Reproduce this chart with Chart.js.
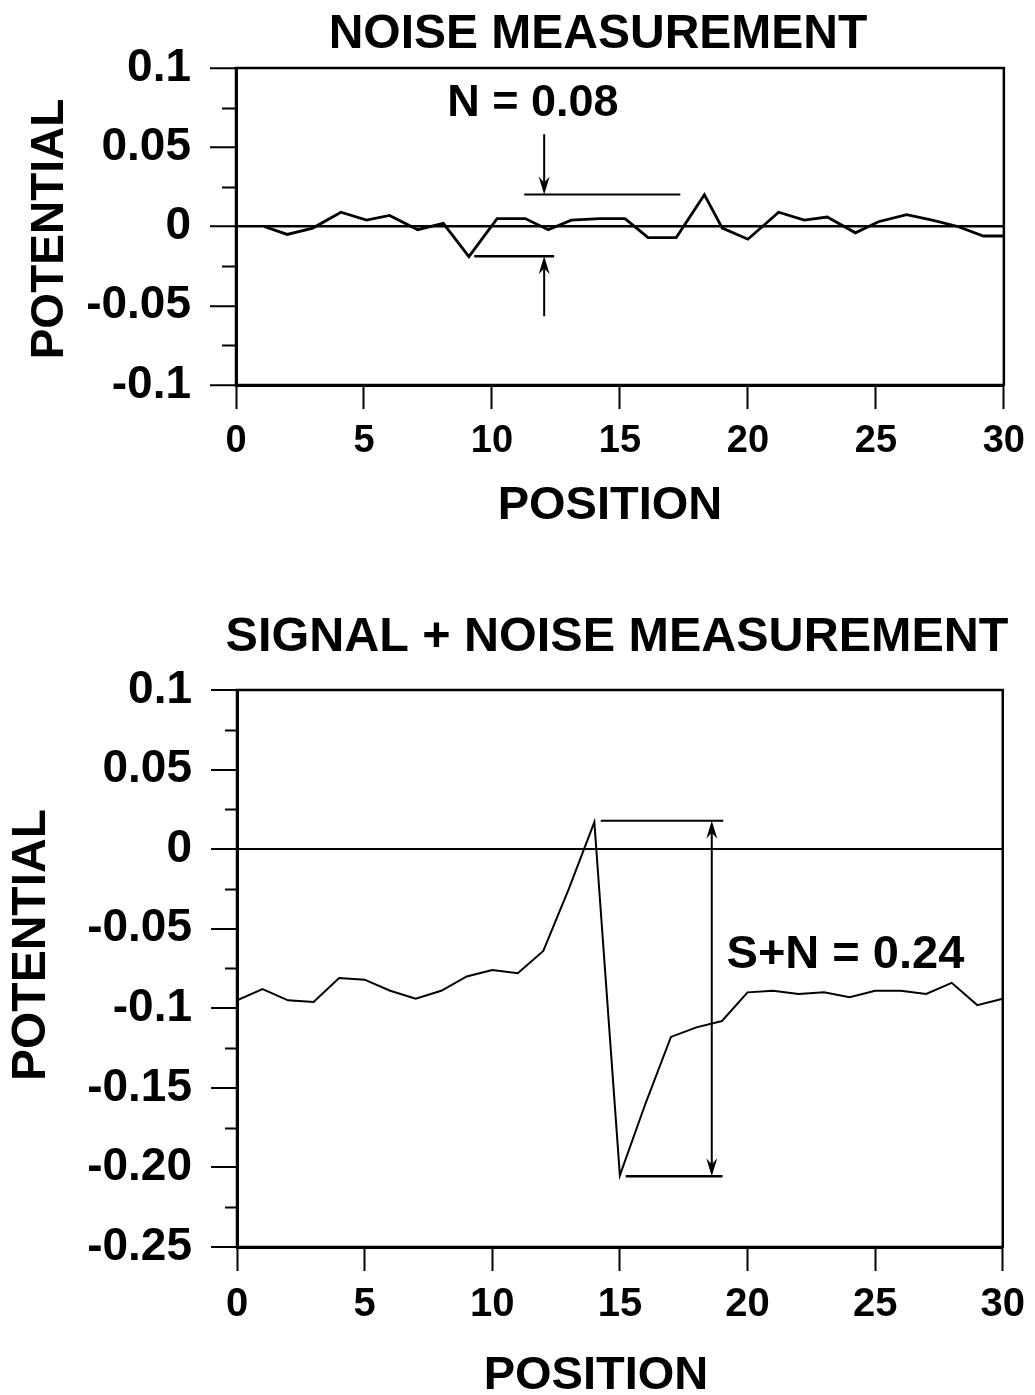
<!DOCTYPE html>
<html>
<head>
<meta charset="utf-8">
<script src="https://cdn.jsdelivr.net/npm/chart.js@4.4.1/dist/chart.umd.min.js"></script>
<style>
  html, body { margin: 0; padding: 0; background: #fff; }
  #wrap { position: relative; width: 1035px; height: 1395px; }
  canvas { position: absolute; left: 0; }
</style>
</head>
<body>
<div id="wrap">
  <canvas id="noiseChart" width="1035" height="560" style="top:0"></canvas>
  <canvas id="signalChart" width="1035" height="835" style="top:560px"></canvas>
</div>
<script>
// top panel: noise only
const noisePositions = [1.1, 2.0, 3.0, 4.1, 5.1, 6.0, 7.1, 8.1, 9.1, 10.2, 11.3, 12.2, 13.1, 14.2, 15.2,
  16.1, 17.2, 18.3, 19.0, 20.0, 21.2, 22.2, 23.1, 24.2, 25.1, 26.2, 27.2, 28.2, 29.2, 30.0];
const noiseValues = [0, -0.005, -0.001, 0.009, 0.004, 0.007, -0.002, 0.002, -0.019, 0.005, 0.005, -0.002, 0.004, 0.005, 0.005,
  -0.007, -0.007, 0.020, -0.001, -0.008, 0.009, 0.004, 0.006, -0.004, 0.003, 0.0075, 0.004, 0, -0.006, -0.006];

// bottom panel: signal + noise
const signalPositions = [0, 1, 2, 3, 4, 5, 6, 7, 8, 9, 10, 11, 12, 13, 14, 15,
  16, 17, 18, 19, 20, 21, 22, 23, 24, 25, 26, 27, 28, 29, 30];
const signalValues = [-0.095, -0.088, -0.095, -0.096, -0.081, -0.082, -0.089, -0.094, -0.089, -0.080, -0.076, -0.078, -0.064, -0.025, 0.017, -0.205,
  -0.160, -0.118, -0.112, -0.108, -0.090, -0.089, -0.091, -0.090, -0.093, -0.089, -0.089, -0.091, -0.084, -0.098, -0.094];

const xTickLabels = ["0", "5", "10", "15", "20", "25", "30"];
const noiseYTickLabels = ["-0.1", "-0.05", "0", "0.05", "0.1"];
const signalYTickLabels = ["-0.25", "-0.20", "-0.15", "-0.1", "-0.05", "0", "0.05", "0.1"];

// measurement marks, in data units
const noiseMarks = { arrowX: 12.04, top: 0.0202, bottom: -0.0187, arrowLen: 0.038,
  topLine: [11.26, 17.36], bottomLine: [9.31, 12.43], label: "N = 0.08", labelAt: [11.6, 0.070] };
const signalMarks = { arrowX: 18.6, top: 0.0179, bottom: -0.2055,
  topLine: [14.25, 19.05], bottomLine: [15.23, 19.02], label: "S+N = 0.24", labelAt: [19.18, -0.0745] };

const FONT = "'Liberation Sans', Arial, Helvetica, sans-serif";

function arrowHead(ctx, x, y, dir) {
  // dir 1 = pointing down, -1 = pointing up, tip at (x, y)
  ctx.beginPath();
  ctx.moveTo(x, y);
  ctx.lineTo(x - 5.5, y - 18 * dir);
  ctx.lineTo(x, y - 12 * dir);
  ctx.lineTo(x + 5.5, y - 18 * dir);
  ctx.closePath();
  ctx.fill();
}

function decorPlugin(opt) {
  return {
    id: "decor",
    afterDraw(chart) {
      const ctx = chart.ctx;
      const { left, top, right, bottom } = chart.chartArea;
      const xs = chart.scales.x, ys = chart.scales.y;
      ctx.save();
      ctx.strokeStyle = "#000";
      ctx.fillStyle = "#000";

      // frame
      ctx.lineWidth = opt.frameWidth;
      ctx.strokeRect(left, top, right - left, bottom - top);

      // minor y ticks
      ctx.lineWidth = 2;
      for (let v = ys.min + 0.025; v < ys.max; v += 0.05) {
        const py = Math.round(ys.getPixelForValue(v)) + 0.5;
        ctx.beginPath();
        ctx.moveTo(left - opt.minorTick, py);
        ctx.lineTo(left, py);
        ctx.stroke();
      }

      // measurement marks
      const m = opt.marks;
      const ax = xs.getPixelForValue(m.arrowX);
      const pTop = ys.getPixelForValue(m.top);
      const pBot = ys.getPixelForValue(m.bottom);
      ctx.lineWidth = 2;
      ctx.beginPath();
      ctx.moveTo(xs.getPixelForValue(m.topLine[0]), pTop);
      ctx.lineTo(xs.getPixelForValue(m.topLine[1]), pTop);
      ctx.stroke();
      ctx.lineWidth = 2.5;
      ctx.beginPath();
      ctx.moveTo(xs.getPixelForValue(m.bottomLine[0]), pBot);
      ctx.lineTo(xs.getPixelForValue(m.bottomLine[1]), pBot);
      ctx.stroke();
      ctx.lineWidth = 2;
      if (m.arrowLen) {
        const a1 = ys.getPixelForValue(m.top + m.arrowLen);
        const a2 = ys.getPixelForValue(m.bottom - m.arrowLen);
        ctx.beginPath();
        ctx.moveTo(ax, a1); ctx.lineTo(ax, pTop - 4);
        ctx.moveTo(ax, a2); ctx.lineTo(ax, pBot + 4);
        ctx.stroke();
        arrowHead(ctx, ax, pTop, 1);
        arrowHead(ctx, ax, pBot, -1);
      } else {
        ctx.beginPath();
        ctx.moveTo(ax, pTop + 4); ctx.lineTo(ax, pBot - 4);
        ctx.stroke();
        arrowHead(ctx, ax, pTop, -1);
        arrowHead(ctx, ax, pBot, 1);
      }

      ctx.font = "bold " + opt.labelSize + "px " + FONT;
      ctx.textBaseline = "alphabetic";
      ctx.textAlign = m.arrowLen ? "center" : "left";
      ctx.fillText(m.label, xs.getPixelForValue(m.labelAt[0]), ys.getPixelForValue(m.labelAt[1]));

      // titles
      ctx.textAlign = "center";
      ctx.font = "bold " + opt.titleSize + "px " + FONT;
      ctx.fillText(opt.title, opt.titleX, opt.titleY);
      ctx.font = "bold 47px " + FONT;
      ctx.fillText("POSITION", opt.xTitleX, opt.xTitleY);
      ctx.translate(opt.yTitleX, opt.yTitleY);
      ctx.rotate(-Math.PI / 2);
      ctx.textBaseline = "middle";
      ctx.font = "bold " + opt.yTitleSize + "px " + FONT;
      ctx.fillText("POTENTIAL", 0, 0);
      ctx.restore();
    }
  };
}

function makeChart(id, p) {
  const ctx = document.getElementById(id).getContext("2d");
  return new Chart(ctx, {
    type: "line",
    data: {
      datasets: [{
        data: p.positions.map((x, i) => ({ x: x, y: p.values[i] })),
        borderColor: "#000",
        borderWidth: p.lineWidth,
        pointRadius: 0,
        tension: 0,
        fill: false,
      }],
    },
    options: {
      responsive: false,
      animation: false,
      events: [],
      layout: { padding: { left: 0, top: p.top, right: p.right, bottom: 0 } },
      plugins: { legend: { display: false }, tooltip: { enabled: false }, title: { display: false } },
      scales: {
        x: {
          type: "linear",
          min: 0,
          max: 30,
          afterFit: (s) => { s.height = p.xAxisHeight; },
          ticks: {
            stepSize: 5,
            autoSkip: false,
            maxRotation: 0,
            padding: 10,
            color: "#000",
            font: { family: FONT, size: p.xTickSize, weight: "bold" },
            callback: (v, i) => xTickLabels[i],
          },
          grid: { drawOnChartArea: false, tickLength: 24, tickWidth: 2, tickColor: "#000", color: "#000" },
          border: { display: true, color: "#000", width: 3 },
        },
        y: {
          min: p.yMin,
          max: 0.1,
          afterFit: (s) => { s.width = p.left; },
          ticks: {
            stepSize: 0.05,
            padding: 19,
            color: "#000",
            font: { family: FONT, size: 46, weight: "bold" },
            callback: (v, i) => p.yTickLabels[i],
          },
          grid: {
            drawOnChartArea: true,
            color: (c) => (c.tick && Math.abs(c.tick.value) < 1e-9 ? "#000" : "rgba(0,0,0,0)"),
            lineWidth: p.zeroWidth,
            tickColor: "#000",
            tickWidth: 2,
            tickLength: 26,
          },
          border: { display: true, color: "#000", width: 3 },
        },
      },
    },
    plugins: [decorPlugin(p.decor)],
  });
}

makeChart("noiseChart", {
  positions: noisePositions,
  values: noiseValues,
  yTickLabels: noiseYTickLabels,
  yMin: -0.1,
  lineWidth: 2.8,
  zeroWidth: 2.5,
  left: 236, top: 68, right: 29, xAxisHeight: 175,
  xTickSize: 38,
  decor: {
    frameWidth: 2.5, minorTick: 14, labelSize: 45, marks: noiseMarks,
    title: "NOISE MEASUREMENT", titleSize: 48, titleX: 598, titleY: 48,
    xTitleX: 610, xTitleY: 519, yTitleX: 50, yTitleY: 229, yTitleSize: 46,
  },
});

makeChart("signalChart", {
  positions: signalPositions,
  values: signalValues,
  yTickLabels: signalYTickLabels,
  yMin: -0.25,
  lineWidth: 2,
  zeroWidth: 2,
  left: 237, top: 130, right: 27, xAxisHeight: 148,
  xTickSize: 40,
  decor: {
    frameWidth: 2.5, minorTick: 12, labelSize: 47, marks: signalMarks,
    title: "SIGNAL + NOISE MEASUREMENT", titleSize: 48.5, titleX: 617, titleY: 91,
    xTitleX: 596, xTitleY: 829, yTitleX: 32, yTitleY: 385, yTitleSize: 48,
  },
});
</script>
</body>
</html>
